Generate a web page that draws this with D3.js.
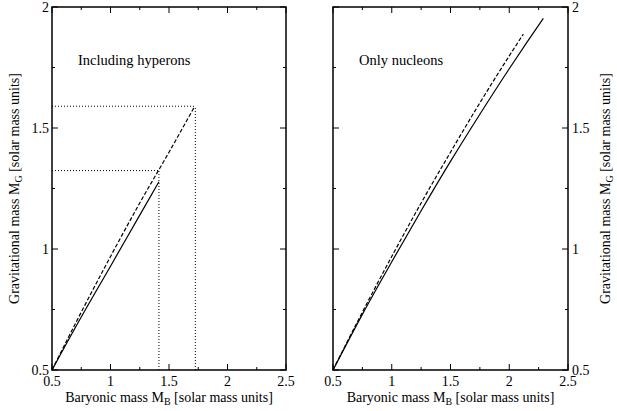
<!DOCTYPE html>
<html>
<head>
<meta charset="utf-8">
<script src="https://cdn.jsdelivr.net/npm/d3@7"></script>
<style>
  body { margin: 0; background: #fff; }
</style>
</head>
<body>
<div id="chart"></div>
<script>
// data (baryonic mass -> gravitational mass)
const hypDashedX = [0.5, 0.75, 1.0, 1.25, 1.5, 1.72];
const hypDashedY = [0.5, 0.739, 0.969, 1.19, 1.40, 1.59];
const hypSolidX = [0.5, 0.75, 1.0, 1.25, 1.414];
const hypSolidY = [0.5, 0.719, 0.929, 1.14, 1.278];
const nucDashedX = [0.5, 0.75, 1.0, 1.25, 1.5, 1.75, 2.0, 2.12];
const nucDashedY = [0.5, 0.739, 0.969, 1.19, 1.40, 1.604, 1.798, 1.888];
const nucSolidX = [0.5, 0.75, 1.0, 1.25, 1.5, 1.75, 2.0, 2.15, 2.29];
const nucSolidY = [0.5, 0.73, 0.947, 1.158, 1.362, 1.557, 1.745, 1.854, 1.953];
// dotted guide lines (left panel): [x, y] corners
const guides = [[1.414, 1.324], [1.725, 1.59]];
const xTicks = [0.5, 1, 1.5, 2, 2.5];
const yTicks = [0.5, 1, 1.5, 2];

const W = 617, H = 411;
const svg = d3.select("#chart").append("svg")
    .attr("width", W).attr("height", H);

// put the font straight on every text element
const txt = sel => sel.append("text").attr("font-family", "Liberation Serif").attr("fill", "#000");

const pts = (xs, ys) => xs.map((x, i) => [x, ys[i]]);

const panels = [
  { left: 52, right: 286, title: "Including hyperons", yAxisSide: "left",
    dashed: pts(hypDashedX, hypDashedY), solid: pts(hypSolidX, hypSolidY), guides: guides },
  { left: 333, right: 568, title: "Only nucleons", yAxisSide: "right",
    dashed: pts(nucDashedX, nucDashedY), solid: pts(nucSolidX, nucSolidY), guides: [] }
];
const plotTop = 7, plotBottom = 370;

panels.forEach(p => {
  const x = d3.scaleLinear().domain([0.5, 2.5]).range([p.left, p.right]);
  const y = d3.scaleLinear().domain([0.5, 2]).range([plotBottom, plotTop]);
  const g = svg.append("g");

  // inward ticks on all four sides
  const xMinor = d3.range(0.5, 2.5001, 0.25);
  const yMinor = d3.range(0.5, 2.0001, 0.25);
  const isMajor = v => Math.abs(v * 2 - Math.round(v * 2)) < 1e-6;
  xMinor.forEach(v => {
    const len = isMajor(v) ? 6 : 3;
    g.append("line").attr("x1", x(v)).attr("x2", x(v)).attr("y1", plotBottom).attr("y2", plotBottom - len)
      .attr("stroke", "#000").attr("stroke-width", 1);
    g.append("line").attr("x1", x(v)).attr("x2", x(v)).attr("y1", plotTop).attr("y2", plotTop + len)
      .attr("stroke", "#000").attr("stroke-width", 1);
  });
  yMinor.forEach(v => {
    const len = isMajor(v) ? 6 : 3;
    g.append("line").attr("x1", p.left).attr("x2", p.left + len).attr("y1", y(v)).attr("y2", y(v))
      .attr("stroke", "#000").attr("stroke-width", 1);
    g.append("line").attr("x1", p.right).attr("x2", p.right - len).attr("y1", y(v)).attr("y2", y(v))
      .attr("stroke", "#000").attr("stroke-width", 1);
  });

  // frame
  g.append("rect").attr("x", p.left).attr("y", plotTop)
    .attr("width", p.right - p.left).attr("height", plotBottom - plotTop)
    .attr("fill", "none").attr("stroke", "#000").attr("stroke-width", 1.5);

  // tick labels
  xTicks.forEach(d => {
    txt(g).attr("x", x(d)).attr("y", plotBottom + 16)
      .attr("text-anchor", "middle").attr("font-size", 14).text(d);
  });
  yTicks.forEach(d => {
    txt(g).attr("x", p.yAxisSide === "left" ? p.left - 3 : p.right + 4)
      .attr("y", d => null).attr("y", y(d) + 5)
      .attr("text-anchor", p.yAxisSide === "left" ? "end" : "start")
      .attr("font-size", 14).text(d);
  });

  // axis titles
  const xt = txt(g).attr("x", (p.left + p.right) / 2).attr("y", plotBottom + 32)
    .attr("text-anchor", "middle").attr("font-size", 14);
  xt.append("tspan").text("Baryonic mass M");
  xt.append("tspan").attr("font-size", 10).attr("dy", 3).text("B");
  xt.append("tspan").attr("dy", -3).text(" [solar mass units]");

  const yx = p.yAxisSide === "left" ? 19 : 610;
  const yt = txt(g)
    .attr("transform", `translate(${yx},${(plotTop + plotBottom) / 2}) rotate(-90)`)
    .attr("text-anchor", "middle").attr("font-size", 14);
  yt.append("tspan").text("Gravitational mass M");
  yt.append("tspan").attr("font-size", 10).attr("dy", 3).text("G");
  yt.append("tspan").attr("dy", -3).text(" [solar mass units]");

  // panel title
  txt(g).attr("x", p.left + 26).attr("y", 65)
    .attr("font-size", 14.5).text(p.title);

  // dotted guides
  p.guides.forEach(([gx, gy]) => {
    g.append("line").attr("x1", x(0.5)).attr("x2", x(gx)).attr("y1", y(gy)).attr("y2", y(gy))
      .attr("stroke", "#000").attr("stroke-width", 1).attr("stroke-dasharray", "1,2");
    g.append("line").attr("x1", x(gx)).attr("x2", x(gx)).attr("y1", y(0.5)).attr("y2", y(gy))
      .attr("stroke", "#000").attr("stroke-width", 1).attr("stroke-dasharray", "1,2");
  });

  const line = d3.line().x(d => x(d[0])).y(d => y(d[1])).curve(d3.curveMonotoneX);
  g.append("path").datum(p.dashed).attr("d", line)
    .attr("fill", "none").attr("stroke", "#000").attr("stroke-width", 1.2)
    .attr("stroke-dasharray", "4,2");
  g.append("path").datum(p.solid).attr("d", line)
    .attr("fill", "none").attr("stroke", "#000").attr("stroke-width", 1.2);
});
</script>
</body>
</html>
